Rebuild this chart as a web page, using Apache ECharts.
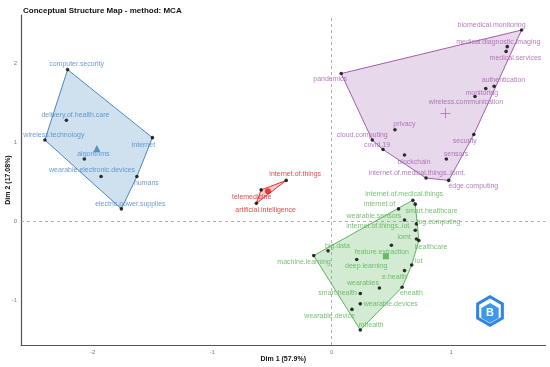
<!DOCTYPE html>
<html><head><meta charset="utf-8">
<script src="https://cdn.jsdelivr.net/npm/echarts@6/dist/echarts.min.js"></script>
<style>html,body{margin:0;padding:0;background:#fff}#c{width:550px;height:367px}</style>
</head><body><div id="c"></div>
<script>
// ---- data ----
const titleText = 'Conceptual Structure Map - method: MCA';
const xName = 'Dim 1 (57.9%)';
const yName = 'Dim 2 (17.08%)';
const xTicks = [-2, -1, 0, 1];
const yTicks = [-1, 0, 1, 2];

const blueWords = ['computer.security','delivery.of.health.care','wireless.technology','internet','algorithms','wearable.electronic.devices','humans','electric.power.supplies'];
const blueDim1 = [-2.21,-2.22,-2.40,-1.50,-2.07,-1.93,-1.63,-1.76];
const blueDim2 = [1.92,1.28,1.03,1.06,0.79,0.57,0.57,0.16];

const redWords = ['internet.of.things','telemedicine','artificial.intelligence'];
const redDim1 = [-0.38,-0.59,-0.63];
const redDim2 = [0.52,0.40,0.23];

const purpleWords = ['biomedical.monitoring','medical.diagnostic.imaging','medical.services','pandemics','authentication','monitoring','wireless.communication','privacy','cloud.computing','covid.19','blockchain','sensors','security','internet.of.medical.things..iomt.','edge.computing'];
const purpleDim1 = [1.59,1.47,1.46,0.08,1.36,1.29,1.20,0.53,0.34,0.43,0.61,0.96,1.19,0.79,0.98];
const purpleDim2 = [2.42,2.21,2.15,1.87,1.71,1.68,1.58,1.16,1.03,0.91,0.84,0.79,1.10,0.55,0.52];

const greenWords = ['internet.of.medical.things','smart.healthcare','internet.of','wearable.sensors','fog.computing','internet.of.things..iot.','iomt','healthcare','feature.extraction','big.data','machine.learning','deep.learning','iot','e.health','wearables','ehealth','smart.health','wearable.devices','wearable.device','mhealth'];
const greenDim1 = [0.68,0.70,0.56,0.61,0.71,0.70,0.71,0.73,0.50,-0.03,-0.15,0.21,0.67,0.61,0.40,0.59,0.24,0.24,0.17,0.24];
const greenDim2 = [0.27,0.22,0.16,0.02,-0.03,-0.11,-0.22,-0.24,-0.30,-0.37,-0.43,-0.48,-0.55,-0.62,-0.84,-0.83,-0.91,-1.04,-1.11,-1.37];

// ---- label placement (pixel offsets from each point, repel-like) ----
const blueLabelOffsets = [[9,-6],[9,-5],[9,-5],[-9,7],[9,-5],[-9,-6],[9.5,7],[9,-5]];
const redLabelOffsets = [[9,-6],[-9.5,6.7],[9.3,6.7]];
const purpleLabelOffsets = [[-30,-5],[-9,-5],[9.4,6.3],[-11,6],[9.3,-5.7],[-4,4],[-9,6],[9.5,-5.3],[-10,-5],[-6,-4],[9.5,7],[9.7,-5.3],[-9,6.3],[-9,-5.3],[24.6,6]];
const greenLabelOffsets = [[-8.7,-6],[16.3,6.6],[-19,-4.6],[-30.6,-4.3],[22,-2],[-36.6,-4],[-12.3,-2],[12.2,7],[-9.5,6.3],[9.3,-5],[-9.7,6],[9.5,6.4],[7,-4.3],[-10,6.3],[-16.5,-5.3],[9.3,6],[-22.7,0],[30.5,0],[-22.3,6.4],[10.7,-5.3]];

const FONT = 'Liberation Sans, Arial, sans-serif';
const PT = 3.6; // point symbol size

// ---- styles ----
const clusters = [
  {words: blueWords, x: blueDim1, y: blueDim2, off: blueLabelOffsets, text: '#4a86c4', line: '#377EB8', fill: 'rgba(55,126,184,0.24)', centroid: 'triangle', csize: 7},
  {words: redWords, x: redDim1, y: redDim2, off: redLabelOffsets, text: '#e41a1c', line: '#E41A1C', fill: 'rgba(228,26,28,0.22)', centroid: 'circle', csize: 6},
  {words: purpleWords, x: purpleDim1, y: purpleDim2, off: purpleLabelOffsets, text: '#a05cae', line: '#984EA3', fill: 'rgba(152,78,163,0.22)', centroid: 'path://M4.6,0h0.8v10h-0.8z M0,4.6h10v0.8h-10z', csize: 10},
  {words: greenWords, x: greenDim1, y: greenDim2, off: greenLabelOffsets, text: '#56b053', line: '#4DAF4A', fill: 'rgba(77,175,74,0.25)', centroid: 'rect', csize: 6}
];

function hull(pts) {
  const p = pts.slice().sort((a,b)=>a[0]-b[0]||a[1]-b[1]);
  const cross=(o,a,b)=>(a[0]-o[0])*(b[1]-o[1])-(a[1]-o[1])*(b[0]-o[0]);
  const lo=[],up=[];
  for (const q of p){while(lo.length>=2&&cross(lo[lo.length-2],lo[lo.length-1],q)<=0)lo.pop();lo.push(q);}
  for (let i=p.length-1;i>=0;i--){const q=p[i];while(up.length>=2&&cross(up[up.length-2],up[up.length-1],q)<=0)up.pop();up.push(q);}
  lo.pop();up.pop();return lo.concat(up);
}

const series = [];
clusters.forEach((c, ci) => {
  const pts = c.words.map((w,i)=>[c.x[i], c.y[i]]);
  const h = hull(pts);
  const cx = c.x.reduce((a,b)=>a+b,0)/c.x.length;
  const cy = c.y.reduce((a,b)=>a+b,0)/c.y.length;
  series.push({
    type: 'custom', silent: true, z: 1,
    data: [[cx, cy]],
    renderItem: (params, api) => {
      const poly = h.map(q => api.coord(q));
      return {type: 'polygon', shape: {points: poly}, style: {fill: c.fill, stroke: c.line, lineWidth: 0.9}};
    }
  });
  series.push({
    type: 'scatter', z: 3, symbol: c.centroid, symbolSize: c.csize,
    itemStyle: {color: c.line}, data: [[cx, cy]], silent: true
  });
  series.push({
    type: 'scatter', z: 4, symbolSize: PT, itemStyle: {color: '#000'},
    data: c.words.map((w,i)=>({value:[c.x[i], c.y[i]], name: w,
      label: {position: [PT/2 + c.off[i][0], PT/2 + c.off[i][1]]}})),
    label: {show: true, formatter: '{b}', color: c.text, fontSize: 7,
      fontFamily: FONT, align: 'center', verticalAlign: 'middle'},
    labelLayout: {hideOverlap: false},
    markLine: ci === 0 ? {
      silent: true, symbol: 'none', label: {show: false},
      lineStyle: {type: [3,3], color: '#9a9a9a', width: 0.8},
      data: [{xAxis: 0}, {yAxis: 0}]
    } : undefined
  });
});

const chart = echarts.init(document.getElementById('c'), null, {renderer: 'canvas'});
const hex = (cx, cy, r) => { const a=[]; for(let k=0;k<6;k++){const t=Math.PI/180*(60*k-90);a.push([cx+r*Math.cos(t),cy+r*Math.sin(t)]);} return a; };
chart.setOption({
  animation: false,
  title: {text: titleText, left: 18, top: 2, textStyle: {fontSize: 8, fontWeight: 'bold', color: '#111', fontFamily: FONT}},
  grid: {left: 21, right: 4.5, top: 15, bottom: 22, containLabel: false, outerBoundsMode: 'none'},
  xAxis: {type: 'value', min: -2.6, max: 1.79, name: xName, nameLocation: 'middle', nameGap: 11, nameMoveOverlap: false,
    nameTextStyle: {fontSize: 7, fontWeight: 'bold', color: '#111', fontFamily: FONT},
    axisLine: {show: true, onZero: false, lineStyle: {color: '#555', width: 1.2}},
    axisTick: {show: false}, splitLine: {show: false},
    axisLabel: {customValues: xTicks, fontSize: 6, color: '#808080', margin: 4, fontFamily: FONT}},
  yAxis: {type: 'value', min: -1.56, max: 2.61, name: yName, nameLocation: 'middle', nameGap: 9, nameRotate: 90, nameMoveOverlap: false,
    nameTextStyle: {fontSize: 7, fontWeight: 'bold', color: '#111', fontFamily: FONT},
    axisLine: {show: true, onZero: false, lineStyle: {color: '#555', width: 1.2}},
    axisTick: {show: false}, splitLine: {show: false},
    axisLabel: {customValues: yTicks, fontSize: 6, color: '#808080', margin: 4, fontFamily: FONT}},
  graphic: [
    {type: 'polygon', shape: {points: hex(490, 311, 16)}, style: {fill: '#2f86de'}, z: 10},
    {type: 'polygon', shape: {points: hex(490, 311, 12.5)}, style: {fill: '#ffffff'}, z: 11},
    {type: 'polygon', shape: {points: hex(490, 313, 10)}, style: {fill: '#3d97ea'}, z: 12},
    {type: 'text', x: 490, y: 313, style: {text: 'B', fill: '#fff', font: 'bold 11px Liberation Sans', align: 'center', verticalAlign: 'middle'}, z: 13}
  ],
  series: series
});
</script></body></html>
